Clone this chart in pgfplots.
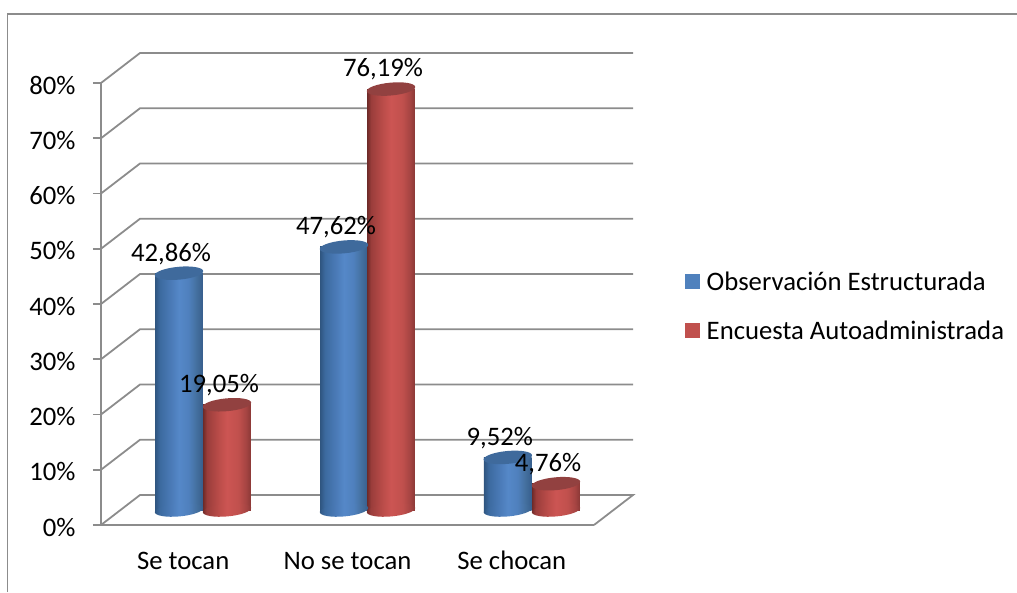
\documentclass[border=0pt]{standalone}
\usepackage{pgfplots}
\pgfplotsset{compat=1.18}
\usepackage{fontspec}
\setmainfont{Carlito}
\definecolor{gridc}{HTML}{8C8C8C}
\definecolor{leg1}{HTML}{4F81BD}
\definecolor{leg2}{HTML}{C0504D}
\definecolor{topb}{HTML}{3F6A9C}
\definecolor{topr}{HTML}{924140}
\definecolor{ba}{HTML}{2F5580}\definecolor{bb}{HTML}{3C6A9F}
\definecolor{bc}{HTML}{4B7BB8}\definecolor{bd}{HTML}{5588C8}
\definecolor{be}{HTML}{4F80BD}\definecolor{bf}{HTML}{44709F}
\definecolor{bg}{HTML}{375E8C}\definecolor{ra}{HTML}{6E2A28}
\definecolor{rb}{HTML}{9A3D3B}\definecolor{rc}{HTML}{BC4D4A}
\definecolor{rd}{HTML}{CC5553}\definecolor{re}{HTML}{C0504D}
\definecolor{rf}{HTML}{A54442}\definecolor{rg}{HTML}{8A3836}
\pgfdeclarehorizontalshading{cylblue}{100bp}{color(0bp)=(ba);color(25bp)=(ba);color(30bp)=(bb);color(42bp)=(bc);color(50bp)=(bd);color(60bp)=(be);color(68bp)=(bf);color(75bp)=(bg);color(100bp)=(bg)}
\pgfdeclarehorizontalshading{cylred}{100bp}{color(0bp)=(ra);color(25bp)=(ra);color(29bp)=(rb);color(42bp)=(rc);color(50bp)=(rd);color(62bp)=(re);color(70bp)=(rf);color(75bp)=(rg);color(100bp)=(rg)}
\newcommand{\cylell}{\pgfpathellipse{\pgfpointorigin}{\pgfqpoint{24.2pt}{2.2pt}}{\pgfqpoint{-0.6pt}{6.4pt}}}
\pgfdeclareplotmark{cylbotB}{\cylell\pgfshadepath{cylblue}{0}\pgfusepath{discard}}
\pgfdeclareplotmark{cylbotR}{\cylell\pgfshadepath{cylred}{0}\pgfusepath{discard}}
\pgfdeclareplotmark{cyltopB}{\cylell\pgfsetfillcolor{topb}\pgfusepathqfill}
\pgfdeclareplotmark{cyltopR}{\cylell\pgfsetfillcolor{topr}\pgfusepathqfill}
\newcommand{\fsz}{\fontsize{26.7}{32}\selectfont}
\begin{document}
\begin{tikzpicture}
\path[use as bounding box] (0pt,0pt) rectangle (1017pt,-592pt);
\draw[gridc,line width=1.6pt] (7.5pt,-592pt) -- (7.5pt,-14pt) -- (1017pt,-14pt);
\begin{axis}[
  at={(101pt,-525pt)}, anchor=south west,
  width=493pt, height=442pt, scale only axis,
  xmin=0, xmax=3, ymin=0, ymax=80,
  axis x line*=bottom, axis y line*=left,
  axis line style={gridc,line width=1.8pt,-},
  clip=false,
  tick align=outside,
  tick style={gridc,line width=1.6pt},
  major tick length=8pt, minor tick length=8pt,
  xtick={0.5,1.5,2.5},
  xticklabels={Se tocan,No se tocan,Se chocan},
  x tick style={draw=none},
  minor xtick={0,1,2,3},
  minor x tick style={gridc,line width=1.6pt},
  ytick={0,10,...,80},
  yticklabel={\pgfmathprintnumber{\tick}\%},
  /pgf/number format/assume math mode=true,
  ticklabel style={font=\fsz,text=black},
  xticklabel style={yshift=-15pt,text height=18pt,text depth=6pt},
  yticklabel style={xshift=-14pt,yshift=-2pt},
  legend style={draw=none,fill=none,font=\fsz,at={(1.184,0.495)},anchor=west,
    row sep=25pt,inner sep=0pt,outer sep=0pt},
  legend cell align=left,
]
\addlegendimage{legend image code/.code={\fill[leg1,draw=none] (0pt,-7.5pt) rectangle (15pt,7.5pt);\path[draw=none] (0pt,0pt) -- (20pt,0pt);}}
\addlegendentry{Observación Estructurada}
\addlegendimage{legend image code/.code={\fill[leg2,draw=none] (0pt,-7.5pt) rectangle (15pt,7.5pt);\path[draw=none] (0pt,0pt) -- (20pt,0pt);}}
\addlegendentry{Encuesta Autoadministrada}
\addplot[gridc,line width=1.8pt,forget plot] coordinates {(0,0) (0.2373,5.43) (3.2373,5.43) (3,0)};
\addplot[gridc,line width=1.8pt,forget plot] coordinates {(0,10) (0.2373,15.43) (3.2373,15.43)};
\addplot[gridc,line width=1.8pt,forget plot] coordinates {(0,20) (0.2373,25.43) (3.2373,25.43)};
\addplot[gridc,line width=1.8pt,forget plot] coordinates {(0,30) (0.2373,35.43) (3.2373,35.43)};
\addplot[gridc,line width=1.8pt,forget plot] coordinates {(0,40) (0.2373,45.43) (3.2373,45.43)};
\addplot[gridc,line width=1.8pt,forget plot] coordinates {(0,50) (0.2373,55.43) (3.2373,55.43)};
\addplot[gridc,line width=1.8pt,forget plot] coordinates {(0,60) (0.2373,65.43) (3.2373,65.43)};
\addplot[gridc,line width=1.8pt,forget plot] coordinates {(0,70) (0.2373,75.43) (3.2373,75.43)};
\addplot[gridc,line width=1.8pt,forget plot] coordinates {(0,80) (0.2373,85.43) (3.2373,85.43)};
\end{axis}
\begin{axis}[
  at={(120.5pt,-510pt)}, anchor=south west,
  width=493pt, height=442pt, scale only axis,
  xmin=0, xmax=3, ymin=0, ymax=80,
  hide axis, clip=false,
  /pgf/number format/assume math mode=true,
  /pgf/number format/use comma,
  blue bar/.style={ybar,bar width=47.8pt,bar shift=0pt,draw=none,shade,shading=cylblue},
  red bar/.style={ybar,bar width=47.8pt,bar shift=0pt,draw=none,shade,shading=cylred},
]
% blue series
\addplot[only marks,mark=cylbotB,draw=none] coordinates {(0.356,0) (1.36,0) (2.357,0)};
\addplot[blue bar] coordinates {(0.356,42.86)};
\addplot[blue bar] coordinates {(1.36,47.62)};
\addplot[blue bar] coordinates {(2.357,9.52)};
\addplot[only marks,mark=cyltopB,draw=none] coordinates {(0.356,42.86) (1.36,47.62) (2.357,9.52)};
% red series
\addplot[only marks,mark=cylbotR,draw=none] coordinates {(0.648,0) (1.646,0) (2.65,0)};
\addplot[red bar] coordinates {(0.648,19.05)};
\addplot[red bar] coordinates {(1.646,76.19)};
\addplot[red bar] coordinates {(2.65,4.76)};
\addplot[only marks,mark=cyltopR,draw=none] coordinates {(0.648,19.05) (1.646,76.19) (2.65,4.76)};
% value labels
\addplot[draw=none,mark=none,point meta=y,
  nodes near coords={\pgfmathprintnumber[fixed,fixed zerofill,precision=2]{\pgfplotspointmeta}\%},
  every node near coord/.style={font=\fsz,text=black,anchor=center,xshift=-8pt,yshift=19.5pt,inner sep=0pt}]
  coordinates {(0.356,42.86) (1.36,47.62) (2.357,9.52) (0.648,19.05) (1.646,76.19) (2.65,4.76)};
\end{axis}
\end{tikzpicture}
\end{document}
